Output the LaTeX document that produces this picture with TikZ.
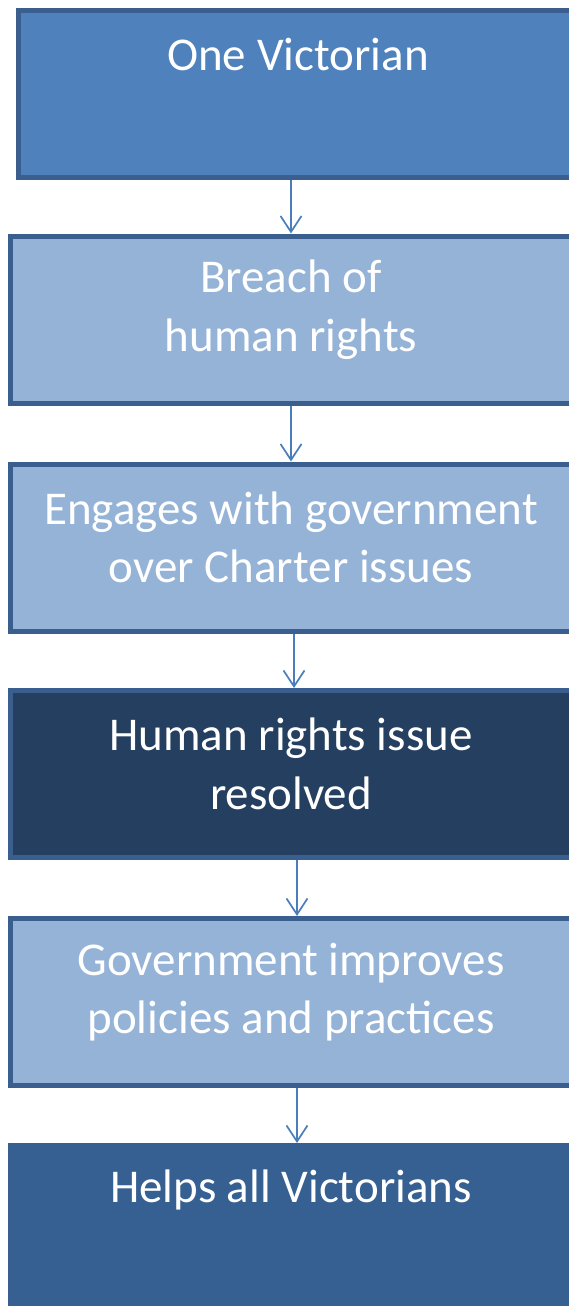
\documentclass[tikz,border=0pt]{standalone}
\usepackage{fontspec}
\setmainfont{Carlito}
\usetikzlibrary{arrows.meta}
\definecolor{boxline}{HTML}{3A5F8E}
\definecolor{midblue}{HTML}{4F81BD}
\definecolor{lightblue}{HTML}{95B3D7}
\definecolor{darkblue}{HTML}{243F60}
\definecolor{lastblue}{HTML}{366092}
\definecolor{arrowblue}{HTML}{4A7EBB}

\tikzset{
  stepbox/.style={rectangle, draw=boxline, line width=5pt, minimum width=561pt, minimum height=167pt, inner sep=0pt},
  boxtext/.style={text=white, align=center, font=\fontsize{47}{58.5}\selectfont, inner sep=0pt},
  flow/.style={draw=arrowblue, line width=1.7pt, -{Straight Barb[length=16pt, width=21pt, line width=1.7pt]}}
}

\begin{document}
\begin{tikzpicture}[x=1pt, y=1pt]
    \useasboundingbox (0,0) rectangle (569,-1306);

    \node[stepbox, fill=midblue, minimum width=559pt] (b1) at (298,-94) {};
    \node[stepbox, fill=lightblue] (b2) at (291,-319.5) {};
    \node[stepbox, fill=lightblue] (b3) at (291,-547.5) {};
    \node[stepbox, fill=darkblue] (b4) at (291,-774) {};
    \node[stepbox, fill=lightblue] (b5) at (291,-1002) {};
    \node[stepbox, fill=lastblue, line width=1pt, minimum width=565pt, minimum height=171pt] (b6) at (291,-1229) {};

    \node[boxtext] (t1) at ([yshift=39pt]b1.center) {One Victorian};
    \node[boxtext] (t2) at ([yshift=10pt]b2.center) {Breach of\\human rights};
    \node[boxtext] (t3) at ([yshift=10pt]b3.center) {Engages with government\\over Charter issues};
    \node[boxtext] (t4) at ([yshift=10pt]b4.center) {Human rights issue\\resolved};
    \node[boxtext] (t5) at ([yshift=10pt]b5.center) {Government improves\\policies and practices};
    \node[boxtext] (t6) at ([yshift=39pt]b6.center) {Helps all Victorians};

    \draw[flow] (b1.south -| b2.north) -- (b2.north);
    \draw[flow] (b2.south) -- (b3.north);
    \draw[flow] ([xshift=3pt]b3.south) -- ([xshift=3pt]b4.north);
    \draw[flow] ([xshift=6pt]b4.south) -- ([xshift=6pt]b5.north);
    \draw[flow] ([xshift=6pt]b5.south) -- ([xshift=6pt]b6.north);
  \end{tikzpicture}
\end{document}
